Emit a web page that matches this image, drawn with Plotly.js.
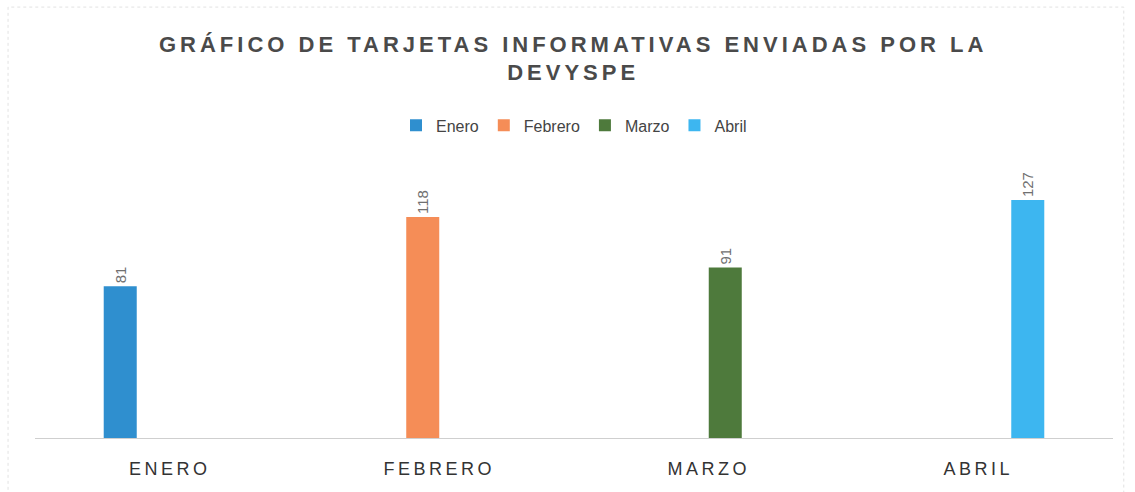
<!DOCTYPE html>
<html>
<head>
<meta charset="utf-8">
<script src="https://cdn.plot.ly/plotly-3.0.1.min.js"></script>
<style>
html,body{margin:0;padding:0;background:#fff;}
#chart{width:1135px;height:492px;}
.xtick text{letter-spacing:3.5px;}
.gtitle{letter-spacing:4px;}
</style>
</head>
<body>
<div id="chart"></div>
<script>
const categories = ["ENERO", "FEBRERO", "MARZO", "ABRIL"];
const seriesNames = ["Enero", "Febrero", "Marzo", "Abril"];
const seriesValues = [81, 118, 91, 127];
const seriesColors = ["#2f8fcf", "#f58d57", "#4e7a3c", "#3db6f0"];

const traces = seriesNames.map((name, i) => {
  const y = categories.map((c, j) => (j === i ? seriesValues[i] : null));
  return {
    type: "bar",
    name: name,
    x: categories,
    y: y,
    text: y.map(v => (v === null ? "" : String(v))),
    textposition: "outside",
    textangle: -90,
    textfont: {family: "Liberation Sans, Arial, sans-serif", size: 15, color: "#707070"},
    cliponaxis: false,
    marker: {color: seriesColors[i]},
    hoverinfo: "x+y+name"
  };
});

const layout = {
  width: 1135,
  height: 492,
  paper_bgcolor: "#fff",
  plot_bgcolor: "#fff",
  margin: {l: 35, r: 22, t: 172, b: 54},
  barmode: "group",
  bargap: 0.51,
  bargroupgap: 0,
  title: {
    text: "<b>GRÁFICO DE TARJETAS INFORMATIVAS ENVIADAS POR LA<br>DEVYSPE</b>",
    font: {family: "Liberation Sans, Arial, sans-serif", size: 22, color: "#4a4a4a"},
    x: 0.505, xanchor: "center",
    yref: "container", y: 0.895, yanchor: "middle"
  },
  legend: {
    orientation: "h",
    x: 0.5, xanchor: "center",
    yref: "container", y: 0.745, yanchor: "middle",
    font: {family: "Liberation Sans, Arial, sans-serif", size: 16, color: "#444"},
    itemwidth: 30,
    tracegroupgap: 0
  },
  xaxis: {
    showline: true,
    linecolor: "#cfcfcf",
    linewidth: 1,
    ticks: "",
    ticklabelstandoff: 14,
    showgrid: false,
    tickfont: {family: "Liberation Sans, Arial, sans-serif", size: 18, color: "#333"}
  },
  yaxis: {
    range: [0, 142],
    visible: false,
    showgrid: false,
    zeroline: false
  },
  shapes: [{
    type: "rect", xref: "paper", yref: "paper",
    x0: -0.025, x1: 1.01, y0: -0.21, y1: 1.62,
    line: {color: "#e2e2e2", width: 1, dash: "dot"}
  }],
  showlegend: true
};

Plotly.newPlot("chart", traces, layout, {displayModeBar: false, staticPlot: true});
</script>
</body>
</html>
